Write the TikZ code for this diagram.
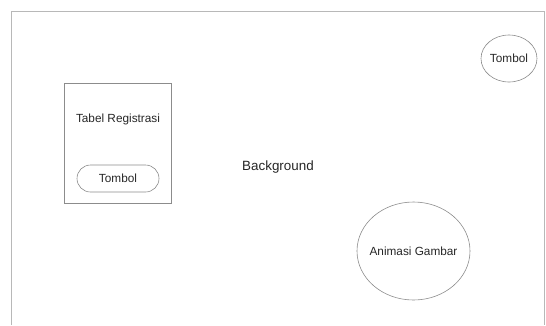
\documentclass[tikz,border=0pt]{standalone}
\usepackage{fontspec}
\setmainfont{Liberation Sans}
\usetikzlibrary{shapes.geometric}
\begin{document}
\begin{tikzpicture}[x=1pt,y=-1pt,
  shape line/.style={draw=black!45, line width=0.6pt},
  lbl/.style={font=\fontsize{11.8pt}{14pt}\selectfont, text=black!85},
]
\useasboundingbox (0,0) rectangle (546,325);
\coordinate (fbl) at (11,325);
\coordinate (ftl) at (11,11);
\coordinate (ftr) at (544,11);
\coordinate (fbr) at (544,325);
\draw[draw=black!28, line width=1pt] (fbl) -- (ftl) -- (ftr) -- (fbr);
\node[shape line, rectangle, minimum width=107pt, minimum height=120pt, inner sep=0pt] (box) at (117.5,143) {};
\node[lbl] (tabel) at (118,119) {Tabel Registrasi};
\node[shape line, rectangle, rounded corners=13.5pt, minimum width=82pt, minimum height=27pt, inner sep=0pt, lbl] (tb1) at (118,178.5) {Tombol};
\node[font=\fontsize{13.4pt}{16pt}\selectfont, text=black!85] (bg) at (278,167) {Background};
\node[shape line, ellipse, minimum width=113pt, minimum height=98pt, inner sep=0pt] (anim) at (413.5,251) {};
\node[lbl] (animtext) at (anim.center) {Animasi Gambar};
\node[shape line, ellipse, minimum width=56pt, minimum height=47pt, inner sep=0pt] (tb2) at (509,58.5) {};
\node[lbl] (tb2text) at (tb2.center) {Tombol};
\end{tikzpicture}
\end{document}
